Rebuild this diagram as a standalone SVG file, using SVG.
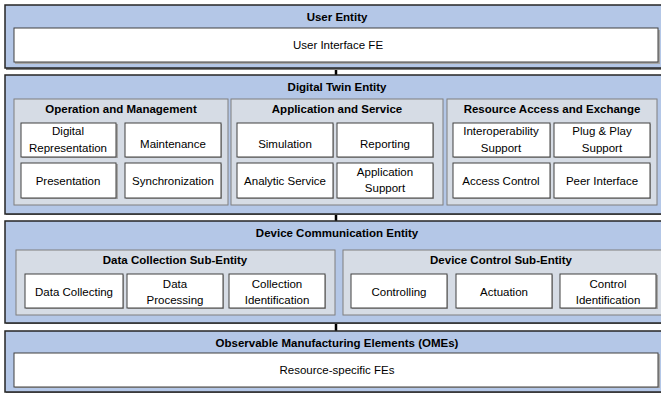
<svg xmlns="http://www.w3.org/2000/svg" width="661" height="396" viewBox="0 0 661 396">
<style>
.outer{fill:#b4c7e7;stroke:#262626;stroke-width:1.5}
.oshadow{fill:#7f7f7f}
.sub{fill:#d6dce5;stroke:#7f7f7f;stroke-width:1}
.box{fill:#ffffff;stroke:#404040;stroke-width:1}
.bshadow{fill:#a6a6a6}
text{font-family:"Liberation Sans",Arial,sans-serif;font-size:11.5px;fill:#000;text-anchor:middle}
.t{font-weight:bold}
.conn{stroke:#000;stroke-width:2.5}
</style>
<rect width="661" height="396" fill="#ffffff"/>
<g id="connectors">
<line class="conn" x1="336" y1="68" x2="336" y2="76"/>
<line class="conn" x1="336" y1="214" x2="336" y2="222"/>
<line class="conn" x1="336" y1="322" x2="336" y2="331"/>
</g>
<g id="user-entity">
<rect class="oshadow" x="6" y="7" width="662" height="63"/>
<rect class="outer" x="5" y="5" width="662" height="63"/>
<text class="t" x="337" y="21">User Entity</text>
<g id="user-interface-fe">
<rect class="bshadow" x="15" y="30" width="645" height="34"/>
<rect class="box" x="14" y="28" width="644" height="34"/>
<text x="338" y="49">User Interface FE</text>
</g>
</g>
<g id="digital-twin-entity">
<rect class="oshadow" x="6" y="77" width="662" height="138"/>
<rect class="outer" x="5" y="75" width="662" height="139"/>
<text class="t" x="337" y="91">Digital Twin Entity</text>
<g id="operation-management">
<rect class="sub" x="14" y="99" width="214" height="106"/>
<text class="t" x="121" y="113">Operation and Management</text>
<rect class="bshadow" x="22" y="124" width="96" height="34"/><rect class="box" x="21" y="123" width="95" height="34"/>
<text x="68" y="135">Digital</text><text x="68" y="152">Representation</text>
<rect class="bshadow" x="126" y="124" width="96" height="34"/><rect class="box" x="125" y="123" width="96" height="34"/>
<text x="173" y="148">Maintenance</text>
<rect class="bshadow" x="22" y="164" width="96" height="35"/><rect class="box" x="21" y="163" width="95" height="35"/>
<text x="68" y="185">Presentation</text>
<rect class="bshadow" x="126" y="164" width="96" height="35"/><rect class="box" x="125" y="163" width="96" height="35"/>
<text x="173" y="185">Synchronization</text>
</g>
<g id="application-service">
<rect class="sub" x="231" y="99" width="212" height="106"/>
<text class="t" x="337" y="113">Application and Service</text>
<rect class="bshadow" x="238" y="124" width="96" height="34"/><rect class="box" x="237" y="123" width="96" height="34"/>
<text x="285" y="148">Simulation</text>
<rect class="bshadow" x="338" y="124" width="96" height="34"/><rect class="box" x="337" y="123" width="96" height="34"/>
<text x="385" y="148">Reporting</text>
<rect class="bshadow" x="238" y="164" width="96" height="35"/><rect class="box" x="237" y="163" width="96" height="35"/>
<text x="285" y="185">Analytic Service</text>
<rect class="bshadow" x="338" y="164" width="96" height="35"/><rect class="box" x="337" y="163" width="96" height="35"/>
<text x="385" y="176">Application</text><text x="385" y="192">Support</text>
</g>
<g id="resource-access-exchange">
<rect class="sub" x="447" y="99" width="210" height="106"/>
<text class="t" x="552" y="113">Resource Access and Exchange</text>
<rect class="bshadow" x="454" y="124" width="97" height="34"/><rect class="box" x="453" y="123" width="97" height="34"/>
<text x="501" y="135">Interoperability</text><text x="501" y="152">Support</text>
<rect class="bshadow" x="555" y="124" width="96" height="34"/><rect class="box" x="554" y="123" width="96" height="34"/>
<text x="602" y="135">Plug &amp; Play</text><text x="602" y="152">Support</text>
<rect class="bshadow" x="454" y="164" width="97" height="35"/><rect class="box" x="453" y="163" width="97" height="35"/>
<text x="501" y="185">Access Control</text>
<rect class="bshadow" x="555" y="164" width="96" height="35"/><rect class="box" x="554" y="163" width="96" height="35"/>
<text x="602" y="185">Peer Interface</text>
</g>
</g>
<g id="device-communication-entity">
<rect class="oshadow" x="6" y="223" width="662" height="101"/>
<rect class="outer" x="5" y="221" width="662" height="102"/>
<text class="t" x="337" y="237">Device Communication Entity</text>
<g id="data-collection">
<rect class="sub" x="16" y="250" width="319" height="65"/>
<text class="t" x="175" y="264">Data Collection Sub-Entity</text>
<rect class="bshadow" x="26" y="275" width="98" height="34"/><rect class="box" x="25" y="274" width="98" height="34"/>
<text x="74" y="296">Data Collecting</text>
<rect class="bshadow" x="128" y="275" width="96" height="34"/><rect class="box" x="127" y="274" width="96" height="34"/>
<text x="175" y="288">Data</text><text x="175" y="304">Processing</text>
<rect class="bshadow" x="230" y="275" width="96" height="34"/><rect class="box" x="229" y="274" width="96" height="34"/>
<text x="277" y="288">Collection</text><text x="277" y="304">Identification</text>
</g>
<g id="device-control">
<rect class="sub" x="343" y="250" width="322" height="65"/>
<text class="t" x="501" y="264">Device Control Sub-Entity</text>
<rect class="bshadow" x="352" y="275" width="96" height="34"/><rect class="box" x="351" y="274" width="96" height="34"/>
<text x="399" y="296">Controlling</text>
<rect class="bshadow" x="457" y="275" width="96" height="34"/><rect class="box" x="456" y="274" width="96" height="34"/>
<text x="504" y="296">Actuation</text>
<rect class="bshadow" x="561" y="275" width="97" height="34"/><rect class="box" x="560" y="274" width="96" height="34"/>
<text x="608" y="288">Control</text><text x="608" y="304">Identification</text>
</g>
</g>
<g id="omes">
<rect class="oshadow" x="6" y="333" width="662" height="60"/>
<rect class="outer" x="5" y="331" width="662" height="61"/>
<text class="t" x="337" y="347">Observable Manufacturing Elements (OMEs)</text>
<g id="resource-specific-fes">
<rect class="bshadow" x="15" y="354" width="645" height="34"/>
<rect class="box" x="14" y="353" width="644" height="34"/>
<text x="337" y="374">Resource-specific FEs</text>
</g>
</g>
</svg>
